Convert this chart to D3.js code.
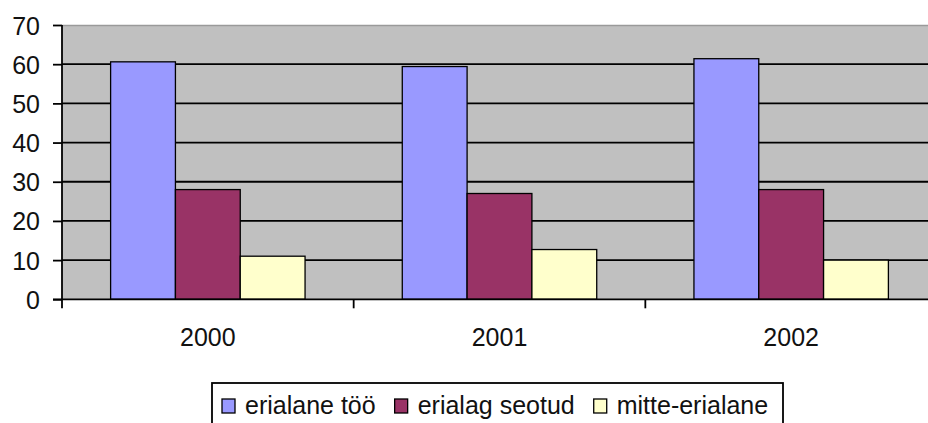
<!DOCTYPE html>
<html>
<head>
<meta charset="utf-8">
<script src="https://cdn.jsdelivr.net/npm/d3@7"></script>
<style>
  html, body { margin: 0; padding: 0; background: #ffffff; }
  svg { display: block; }
  text { font-family: "Liberation Sans", Arial, sans-serif; fill: #111; }
</style>
</head>
<body>
<svg id="chart" width="928" height="423"></svg>
<script>
const years = ["2000", "2001", "2002"];
const seriesNames = ["erialane töö", "erialag seotud", "mitte-erialane"];
const erialaneToo = [60.6, 59.4, 61.4];
const erialagSeotud = [28, 27, 28];
const mitteErialane = [11, 12.7, 10];
const yTicks = [0, 10, 20, 30, 40, 50, 60, 70];
const colors = ["#9999FF", "#993366", "#FFFFCC"];

const seriesValues = [erialaneToo, erialagSeotud, mitteErialane];

const svg = d3.select("#chart");
const W = 928, H = 423;
const plotLeft = 62, plotTop = 25, plotBottom = 299.3, plotRight = 937;
const FS = 25;

const x0 = d3.scaleBand().domain(years).range([plotLeft, plotRight]).paddingInner(0).paddingOuter(0);
const x1 = d3.scaleBand().domain(seriesNames).range([0, x0.bandwidth()]).paddingInner(0).paddingOuter(0.75);
const y = d3.scaleLinear().domain([0, 70]).range([plotBottom, plotTop]);

// plot background
svg.append("rect")
  .attr("x", plotLeft).attr("y", plotTop)
  .attr("width", plotRight - plotLeft).attr("height", plotBottom - plotTop)
  .attr("fill", "#C0C0C0");
// top border of plot area
svg.append("line")
  .attr("x1", plotLeft).attr("x2", W)
  .attr("y1", plotTop + 0.5).attr("y2", plotTop + 0.5)
  .attr("stroke", "#9a9a9a").attr("stroke-width", 1.5);

// gridlines
svg.append("g").selectAll("line")
  .data(yTicks.filter(d => d > 0 && d < 70))
  .join("line")
  .attr("x1", plotLeft).attr("x2", plotRight)
  .attr("y1", d => y(d)).attr("y2", d => y(d))
  .attr("stroke", "#000").attr("stroke-width", 1.8);

// bars
const groups = svg.append("g").selectAll("g")
  .data(years)
  .join("g")
  .attr("transform", d => `translate(${x0(d)},0)`);

groups.selectAll("rect")
  .data((yr, i) => seriesNames.map((s, j) => ({ s, j, v: seriesValues[j][i] })))
  .join("rect")
  .attr("x", d => x1(d.s))
  .attr("y", d => y(d.v))
  .attr("width", x1.bandwidth())
  .attr("height", d => plotBottom - y(d.v))
  .attr("fill", d => colors[d.j])
  .attr("stroke", "#000")
  .attr("stroke-width", 1.3);

// y axis
const yAxis = d3.axisLeft(y).tickValues(yTicks).tickSize(9).tickPadding(13).tickFormat(d3.format("d"));
const gy = svg.append("g").attr("transform", `translate(${plotLeft},0)`).call(yAxis);
gy.select(".domain").remove();
gy.selectAll(".tick line").attr("stroke", "#000").attr("stroke-width", 1.8);
gy.selectAll(".tick text").attr("font-size", FS).attr("font-family", "Liberation Sans, Arial, sans-serif")
  .attr("fill", "#111").attr("dy", "0.36em");
svg.append("line")
  .attr("x1", plotLeft).attr("x2", plotLeft)
  .attr("y1", plotTop).attr("y2", plotBottom + 9)
  .attr("stroke", "#000").attr("stroke-width", 1.8);

// x axis
svg.append("line")
  .attr("x1", plotLeft - 9).attr("x2", W)
  .attr("y1", plotBottom).attr("y2", plotBottom)
  .attr("stroke", "#000").attr("stroke-width", 1.8);
svg.append("g").selectAll("line")
  .data(years.slice(1))
  .join("line")
  .attr("x1", d => x0(d)).attr("x2", d => x0(d))
  .attr("y1", plotBottom).attr("y2", plotBottom + 9)
  .attr("stroke", "#000").attr("stroke-width", 1.8);
svg.append("g").selectAll("text")
  .data(years)
  .join("text")
  .attr("x", d => x0(d) + x0.bandwidth() / 2)
  .attr("y", 346)
  .attr("text-anchor", "middle")
  .attr("font-size", FS)
  .text(d => d);

// legend
const legBox = { x: 212, y: 383, w: 571, h: 60 };
svg.append("rect")
  .attr("x", legBox.x).attr("y", legBox.y)
  .attr("width", legBox.w).attr("height", legBox.h)
  .attr("fill", "#fff").attr("stroke", "#000").attr("stroke-width", 1.8);
const leg = svg.append("g");
let cx = legBox.x + 10;
seriesNames.forEach((name, i) => {
  leg.append("rect")
    .attr("x", cx).attr("y", 399)
    .attr("width", 13).attr("height", 14)
    .attr("fill", colors[i]).attr("stroke", "#000").attr("stroke-width", 1.3);
  const t = leg.append("text")
    .attr("x", cx + 23).attr("y", 414)
    .attr("font-size", FS)
    .text(name);
  cx = cx + 23 + t.node().getComputedTextLength() + 19;
});
</script>
</body>
</html>
